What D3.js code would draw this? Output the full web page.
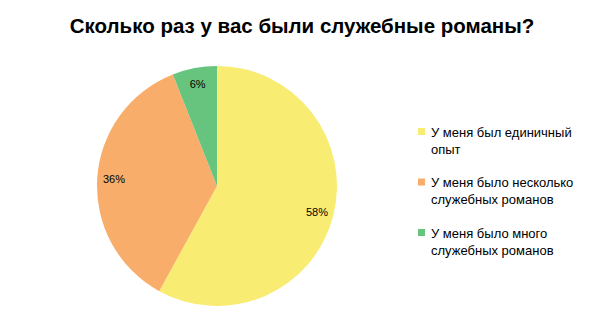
<!DOCTYPE html>
<html><head><meta charset="utf-8">
<script src="https://cdn.jsdelivr.net/npm/d3@7"></script>
<style>body{margin:0;background:#fff;}svg{display:block;}</style>
</head><body>
<svg id="c" width="612" height="316"></svg>
<script>
const title = "Сколько раз у вас были служебные романы?";
const categories = [
  ["У меня был единичный", "опыт"],
  ["У меня было несколько", "служебных романов"],
  ["У меня было много", "служебных романов"]
];
const values = [58, 36, 6];
const labels = ["58%", "36%", "6%"];
const colors = ["#F8EC73", "#F8AD6A", "#66C47E"];

const svg = d3.select("#c");
const font = "'Liberation Sans', Arial, sans-serif";

svg.append("text").attr("x", 302).attr("y", 33).attr("text-anchor", "middle")
  .attr("font-family", font).attr("font-weight", "bold").attr("font-size", 20.5)
  .attr("fill", "#000").text(title);

const cx = 217, cy = 186, r = 120;
const pie = d3.pie().sort(null).value(d => d);
const arcs = pie(values);
const arc = d3.arc().innerRadius(0).outerRadius(r);
const g = svg.append("g").attr("transform", `translate(${cx},${cy})`);
g.selectAll("path").data(arcs).join("path")
  .attr("d", arc).attr("fill", (d, i) => colors[i]);

const labelArc = d3.arc().innerRadius(r * 0.86).outerRadius(r * 0.86);
g.selectAll("text.lbl").data(arcs).join("text").attr("class", "lbl")
  .attr("transform", d => `translate(${labelArc.centroid(d)})`)
  .attr("text-anchor", "middle").attr("dy", "0.35em")
  .attr("font-family", font).attr("font-size", 11).attr("fill", "#000")
  .text((d, i) => labels[i]);

const lg = svg.append("g");
categories.forEach((lines, i) => {
  const y0 = 132 + i * 50.5;
  lg.append("rect").attr("x", 418).attr("y", y0 - 4).attr("width", 7).attr("height", 7)
    .attr("fill", colors[i]);
  lines.forEach((t, j) => {
    lg.append("text").attr("x", 431).attr("y", y0 + j * 17).attr("dy", "0.35em")
      .attr("font-family", font).attr("font-size", 13).attr("fill", "#000").text(t);
  });
});
</script>
</body></html>
